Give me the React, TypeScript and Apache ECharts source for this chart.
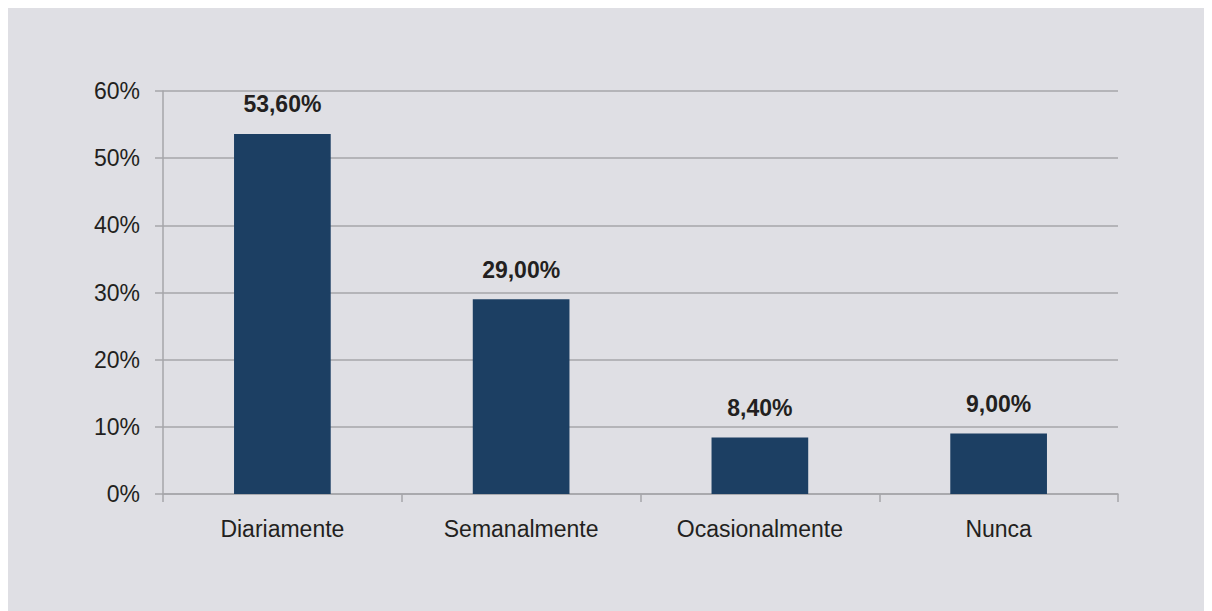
import React, { useEffect, useRef } from "react";
import * as echarts from "echarts";

const categories = ["Diariamente", "Semanalmente", "Ocasionalmente", "Nunca"];
const values = [53.6, 29.0, 8.4, 9.0];
const yTicks = [0, 10, 20, 30, 40, 50, 60];

export default function App() {
  const ref = useRef<HTMLDivElement>(null);
  useEffect(() => {
    if (!ref.current) return;
    const chart = echarts.init(ref.current, null, { renderer: "svg" });
    const font = "'Liberation Sans', Arial, Helvetica, sans-serif";
    chart.setOption({
      animation: false,
      backgroundColor: "#dfdfe4",
      grid: { left: 155, top: 83, right: 94, bottom: 117, containLabel: false },
      xAxis: {
        type: "category",
        data: categories,
        axisLine: { show: true, lineStyle: { color: "#a6a6aa", width: 1.5 } },
        axisTick: { show: true, alignWithLabel: false, length: 8, lineStyle: { color: "#a6a6aa", width: 1.5 } },
        axisLabel: { color: "#231f20", fontSize: 23, fontFamily: font, margin: 23 },
      },
      yAxis: {
        type: "value",
        min: yTicks[0],
        max: yTicks[yTicks.length - 1],
        interval: 10,
        axisLine: { show: true, lineStyle: { color: "#a6a6aa", width: 1.5 } },
        axisTick: { show: true, length: 8, lineStyle: { color: "#a6a6aa", width: 1.5 } },
        splitLine: { show: true, lineStyle: { color: "#a6a6aa", width: 1.5 } },
        axisLabel: {
          color: "#231f20",
          fontSize: 23,
          fontFamily: font,
          margin: 23,
          formatter: (v: number) => `${v}%`,
        },
      },
      series: [
        {
          type: "bar",
          data: values,
          barWidth: "40.5%",
          itemStyle: { color: "#1c3f63" },
          label: {
            show: true,
            position: "top",
            distance: 18,
            color: "#231f20",
            fontSize: 23,
            fontWeight: "bold",
            fontFamily: font,
            formatter: (p: any) => p.value.toFixed(2).replace(".", ",") + "%",
          },
        },
      ],
    });
    return () => chart.dispose();
  }, []);
  return <div ref={ref} style={{ width: 1204, height: 603 }} />;
}
